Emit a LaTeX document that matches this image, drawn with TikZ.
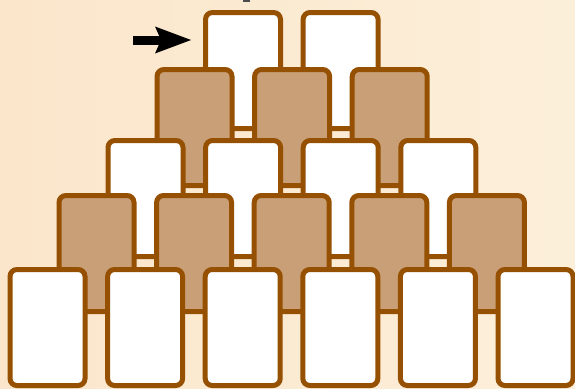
\documentclass[tikz,border=0pt]{standalone}
\usetikzlibrary{arrows.meta}
\definecolor{edge}{RGB}{150,80,2}
\definecolor{brownfill}{RGB}{201,159,119}
\definecolor{bgleft}{RGB}{251,230,203}
\definecolor{bgright}{RGB}{252,239,218}
\tikzset{
  card/.style={rectangle, draw=edge, line width=5pt, rounded corners=7pt,
    minimum width=75pt, minimum height=116pt, inner sep=0pt},
  whitecard/.style={card, fill=white},
  browncard/.style={card, fill=brownfill},
  pointer/.style={line width=9pt, -{Stealth[length=36pt, width=27pt, inset=6pt, line width=0pt]}}
}
\begin{document}
\begin{tikzpicture}[x=1pt, y=-1pt]
  \shade[left color=bgleft, right color=bgright] (0,0) rectangle (575,388);
  \useasboundingbox (0,0) rectangle (575,388);
  \fill[gray!60!black] (243,0) rectangle (250,1.6);
  % row 1 (white, 2 cards)
  \foreach \k in {0,1} {
    \node[whitecard] (r1c\k) at ({243 + \k*97.6}, 70.5) {};
  }
  % row 2 (brown, 3 cards)
  \foreach \k in {0,1,2} {
    \node[browncard] (r2c\k) at ({194.5 + \k*97.6}, 127.5) {};
  }
  % row 3 (white, 4 cards)
  \foreach \k in {0,...,3} {
    \node[whitecard] (r3c\k) at ({145.5 + \k*97.6}, 198.5) {};
  }
  % row 4 (brown, 5 cards)
  \foreach \k in {0,...,4} {
    \node[browncard] (r4c\k) at ({96.5 + \k*97.6}, 253.5) {};
  }
  % row 5 (white, 6 cards)
  \foreach \k in {0,...,5} {
    \node[whitecard] (r5c\k) at ({47.5 + \k*97.6}, 327.5) {};
  }
  \coordinate (arrowstart) at (133,40);
  \draw[pointer, shorten >=12pt] (arrowstart) -- (r1c0.west |- arrowstart);
\end{tikzpicture}
\end{document}
